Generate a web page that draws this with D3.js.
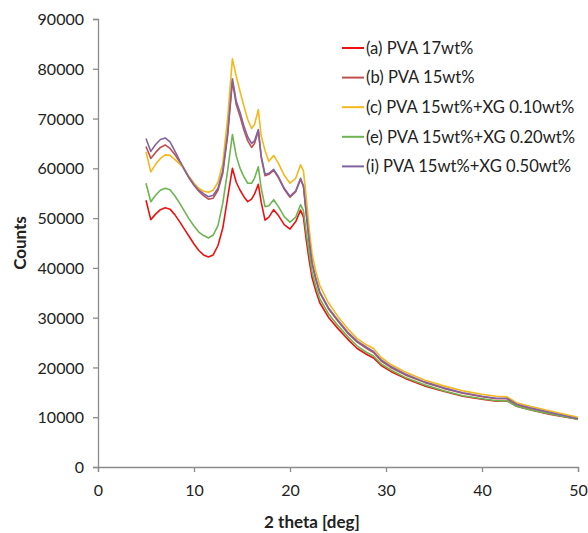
<!DOCTYPE html>
<html>
<head>
<meta charset="utf-8">
<script src="https://cdn.jsdelivr.net/npm/d3@7"></script>
<style>
  body { margin: 0; background: #fff; }
  text { font-family: Lato, "Open Sans", sans-serif; fill: #222; }
</style>
</head>
<body>
<div id="chart"></div>
<script>
// XRD patterns

const FRAME_WIDTH = 588;
const FRAME_HEIGHT = 533;
const MARGINS = {left: 98, right: 10, top: 19, bottom: 66};

const VIS_WIDTH = 578 - MARGINS.left;
const VIS_HEIGHT = 467 - MARGINS.top;

const THETA = [5.0, 5.5, 6.0, 6.5, 7.0, 7.5, 8.0, 8.5, 9.0, 9.5, 10.0, 10.5, 11.0, 11.5, 12.0,
  12.5, 13.0, 13.5, 14.0, 14.4, 14.8, 15.2, 15.6, 16.0, 16.3, 16.7, 17.0, 17.4, 17.8, 18.3,
  18.8, 19.4, 20.0, 20.6, 21.1, 21.4, 21.7, 22.0, 22.3, 22.7, 23.1, 24.0, 25.0, 26.0, 27.0,
  28.0, 28.7, 29.5, 30.5, 32.0, 34.0, 36.0, 38.0, 40.0, 41.5, 42.6, 43.6, 45.0, 47.0, 50.0];

const PVA17 = [53600, 49700, 50800, 51700, 52100, 51800, 50700, 49300, 47800, 46300, 44800, 43500, 42600, 42200, 42600,
  44500, 48000, 54000, 60000, 57200, 55600, 54300, 53300, 53800, 54800, 56800, 53200, 49600, 50200, 51700,
  50500, 48700, 47800, 49300, 51600, 50200, 45500, 41500, 38000, 35300, 33000, 30100, 27800, 25700, 23800,
  22600, 21900, 20400, 19200, 17800, 16300, 15200, 14200, 13600, 13200, 13300, 12200, 11500, 10600, 9600];

const PVA15 = [64400, 62000, 63200, 64200, 64700, 64000, 62800, 61300, 59700, 58000, 56600, 55400, 54500, 53800, 54000,
  55600, 59000, 66500, 77500, 72800, 70400, 67700, 65500, 64200, 65000, 67500, 62200, 58500, 58800, 59600,
  58100, 55800, 54200, 55300, 57800, 56300, 50700, 45200, 40800, 37600, 35000, 31800, 29300, 26900, 25100,
  23800, 23000, 21300, 20000, 18500, 17000, 15800, 14800, 14100, 13700, 13700, 12500, 11800, 10900, 9700];

const XG010 = [63300, 59300, 60800, 62000, 62700, 62600, 61800, 60900, 59900, 58300, 57000, 56000, 55400, 55200, 55600,
  57200, 61000, 70000, 82000, 78500, 75400, 72500, 69800, 68000, 68800, 71800, 66500, 63600, 61400, 62600,
  61000, 58600, 57000, 58000, 60700, 59500, 54000, 47800, 42800, 39200, 36500, 33000, 30200, 27800, 25800,
  24500, 23800, 22000, 20600, 19100, 17500, 16300, 15300, 14600, 14200, 14100, 12900, 12200, 11300, 10000];

const XG020 = [57000, 53300, 54600, 55600, 56000, 55700, 54500, 53000, 51400, 49800, 48400, 47200, 46500, 46000, 46600,
  48500, 53000, 59500, 66800, 62500, 60000, 58300, 57000, 57000, 58000, 60300, 56000, 52300, 52500, 53700,
  52300, 50300, 49200, 50200, 52700, 51500, 47000, 43000, 39200, 36200, 33800, 30800, 28400, 26200, 24300,
  23000, 22300, 20700, 19500, 18000, 16500, 15300, 14300, 13700, 13300, 13300, 12200, 11500, 10700, 9600];

const XG050 = [66000, 63400, 64800, 65800, 66100, 65300, 63500, 61600, 59800, 58100, 56700, 55600, 54900, 54300, 54600,
  56000, 59500, 67000, 78000, 73500, 71200, 68500, 66300, 65000, 65500, 67800, 62500, 58800, 59000, 59800,
  58300, 56000, 54400, 55500, 58000, 56500, 51000, 45500, 41000, 37800, 35200, 32000, 29500, 27100, 25300,
  24000, 23200, 21500, 20200, 18700, 17100, 15900, 14900, 14200, 13800, 13800, 12600, 11900, 11000, 9700];

const LABELS = ['(a) PVA 17wt%', '(b) PVA 15wt%', '(c) PVA 15wt%+XG 0.10wt%',
  '(e) PVA 15wt%+XG 0.20wt%', '(i) PVA 15wt%+XG 0.50wt%'];
const COLORS = ['#ee1111', '#c0504d', '#f4b81c', '#6cb552', '#8064a2'];
const SERIES = [PVA17, PVA15, XG010, XG020, XG050];

const X_TICKS = [0, 10, 20, 30, 40, 50];
const Y_TICKS = [0, 10000, 20000, 30000, 40000, 50000, 60000, 70000, 80000, 90000];

const svg = d3.select('#chart')
  .append('svg')
    .attr('width', FRAME_WIDTH)
    .attr('height', FRAME_HEIGHT);

const xscale = d3.scaleLinear().domain([0, 50]).range([0, VIS_WIDTH]);
const yscale = d3.scaleLinear().domain([0, 90000]).range([VIS_HEIGHT, 0]);

const plot = svg.append('g')
  .attr('transform', 'translate(' + MARGINS.left + ',' + MARGINS.top + ')');

// axes
const xAxis = plot.append('g')
  .attr('transform', 'translate(0,' + VIS_HEIGHT + ')')
  .call(d3.axisBottom(xscale).tickValues(X_TICKS).tickSize(5).tickPadding(13));

const yAxis = plot.append('g')
  .call(d3.axisLeft(yscale).tickValues(Y_TICKS).tickFormat(d3.format('d')).tickSize(5).tickPadding(9));

[xAxis, yAxis].forEach((ax) => {
  ax.selectAll('path, line').attr('stroke', '#8c8c8c').attr('stroke-width', 1.3);
  ax.selectAll('text').attr('font-size', '16px').attr('fill', '#222')
    .style('font-family', 'Lato, sans-serif');
});
yAxis.selectAll('text').attr('dy', '0.35em');

// lines
const line = d3.line()
  .x((d) => xscale(d[0]))
  .y((d) => yscale(d[1]));

SERIES.forEach((vals, i) => {
  plot.append('path')
    .datum(THETA.map((t, j) => [t, vals[j]]))
    .attr('d', line)
    .attr('fill', 'none')
    .attr('stroke', COLORS[i])
    .attr('stroke-width', 1.6)
    .attr('stroke-linejoin', 'round');
});

// legend
const legend = svg.append('g').attr('transform', 'translate(342,48)');
LABELS.forEach((lab, i) => {
  const row = legend.append('g').attr('transform', 'translate(0,' + (i * 29.6) + ')');
  row.append('line')
    .attr('x1', 0).attr('x2', 22)
    .attr('stroke', COLORS[i]).attr('stroke-width', 2);
  row.append('text')
    .attr('x', 24).attr('y', 0).attr('dy', '0.35em')
    .attr('font-size', '16.6px')
    .text(lab);
});

// axis titles
svg.append('text')
  .attr('x', 312).attr('y', 522).attr('dy', '0.35em')
  .attr('text-anchor', 'middle')
  .attr('font-size', '17px').attr('font-weight', 'bold')
  .text('2 theta [deg]');

svg.append('text')
  .attr('transform', 'translate(20,243) rotate(-90)')
  .attr('dy', '0.35em')
  .attr('text-anchor', 'middle')
  .attr('font-size', '17px').attr('font-weight', 'bold')
  .text('Counts');
</script>
</body>
</html>
